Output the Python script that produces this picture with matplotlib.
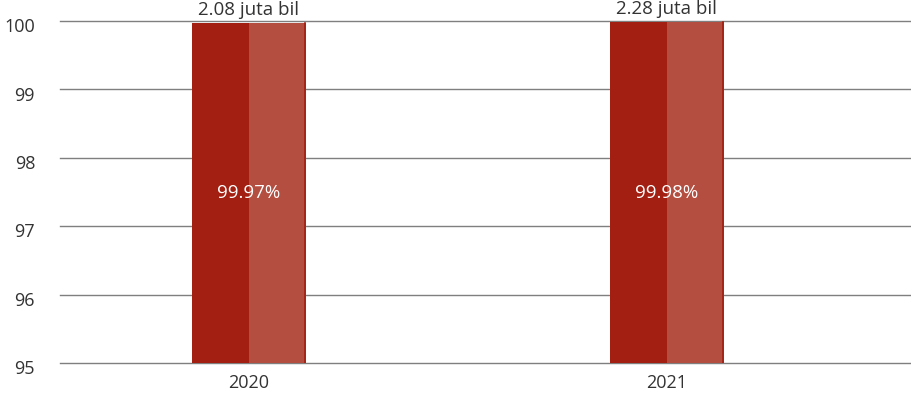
import matplotlib.pyplot as plt
import matplotlib.transforms as mtransforms
import numpy as np

plt.rcParams['font.family'] = ['Open Sans', 'DejaVu Sans']

years = ['2020', '2021']
share_pct = [99.97, 99.98]
vehicles = ['2.08 juta bil', '2.28 juta bil']
y_ticks = [95, 96, 97, 98, 99, 100]

dark_red = '#a21f12'
light_red = '#b34e41'
text_col = '#333333'

fig = plt.figure(figsize=(9.11, 3.94), dpi=100)
ax = fig.add_axes([0.0659, 0.0787, 0.9341, 0.868])

x = np.arange(len(years))
width = 0.273
base = y_ticks[0]
heights = [v - base for v in share_pct]

# full bar in dark red, right half overdrawn lighter
bars = ax.bar(x, heights, width, bottom=base, color=dark_red, zorder=3)
ax.bar(x, heights, width / 2, bottom=base, align='edge', color=light_red,
       linewidth=0, zorder=3)
for xi, h in zip(x, heights):
    ax.plot([xi + width / 2 - 0.002] * 2, [base, base + h], color=dark_red,
            linewidth=1.2, zorder=4)

ax.bar_label(bars, labels=[f'{v:.2f}%' for v in share_pct], label_type='center',
             color='white', fontsize=13.5, zorder=5)
ax.bar_label(bars, labels=vehicles, padding=3, color=text_col, fontsize=13.5)

ax.set_ylim(95, 100)
ax.set_xlim(-0.452, 1.584)
ax.set_yticks(y_ticks)
ax.set_xticks(x, years)
ax.yaxis.grid(True, color='#7f7f7f', linewidth=1.0, zorder=0)
for gl in ax.get_ygridlines():
    gl.set_clip_on(False)
ax.tick_params(axis='both', length=0, labelsize=13, labelcolor=text_col)
ax.tick_params(axis='y', pad=18)
ax.tick_params(axis='x', pad=8)
for s in ax.spines.values():
    s.set_visible(False)

# nudge y tick labels a little below their gridlines
shift = mtransforms.ScaledTranslation(0, -3 / 72, fig.dpi_scale_trans)
for lbl in ax.get_yticklabels():
    lbl.set_transform(lbl.get_transform() + shift)

fig.savefig('out.png', dpi=100)
plt.close(fig)
